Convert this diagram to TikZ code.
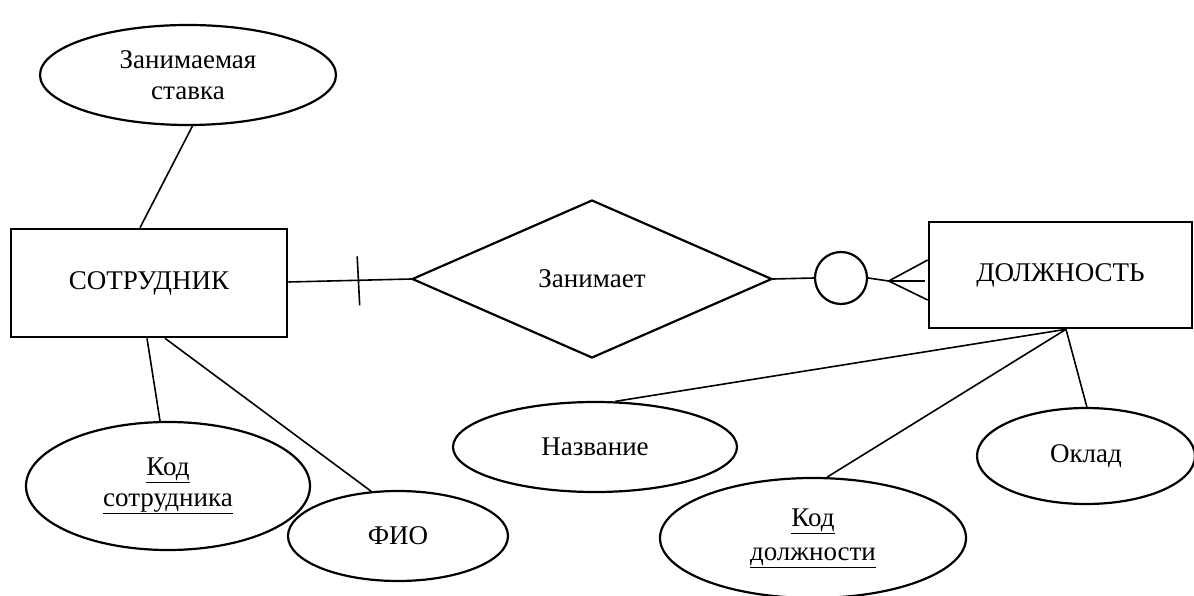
\documentclass[tikz,border=0pt]{standalone}
\usepackage{fontspec}
\setmainfont{Liberation Serif}
\usetikzlibrary{shapes.geometric,calc}
\begin{document}
\begin{tikzpicture}[x=1pt,y=-1pt,
  every node/.style={font=\fontsize{27}{31}\selectfont, align=center, inner sep=0pt},
  entity/.style={draw, rectangle, line width=2.6pt},
  attr/.style={draw, ellipse, line width=2.2pt},
  rel/.style={draw, diamond, line width=2.2pt, shape aspect=2.28},
  link/.style={line width=1.6pt}]
\path[use as bounding box] (0,0) rectangle (1194,596);
\clip (0,0) rectangle (1194,596);

% entities
\node[entity, minimum width=276pt, minimum height=108pt] (sotr) at (149,283) {СОТРУДНИК};
\node[entity, minimum width=263pt, minimum height=106pt] (dolzh) at (1060.5,275) {ДОЛЖНОСТЬ};

% relationship
\node[rel, minimum width=360pt, minimum height=158pt] (zan) at (592,279) {Занимает};
\node[draw, circle, line width=2.2pt, minimum size=52pt] (opt) at (841,278) {};

% attributes
\node[attr, minimum width=296pt, minimum height=100pt] (stavka) at (188,75) {Занимаемая\\ставка};
\node[attr, minimum width=284pt, minimum height=128pt] (kods) at (168,486) {\underline{Код}\\\underline{сотрудника}};
\node[attr, minimum width=220pt, minimum height=90pt] (fio) at (398,536) {ФИО};
\node[attr, minimum width=284pt, minimum height=90pt] (nazv) at (595,447) {Название};
\node[attr, minimum width=306pt, minimum height=120pt] (kodd) at (813,538) {\underline{Код}\\[3pt]\underline{должности}};
\node[attr, minimum width=218pt, minimum height=96pt] (oklad) at (1086,456) {Оклад};

% attribute links
\draw[link] ([xshift=-9pt]sotr.north) -- (stavka.-85.6);
\draw[link] ([xshift=-2pt]sotr.south) -- (kods.97);
\draw[link] ([xshift=16pt]sotr.south) -- (fio.121);
\draw[link] ([xshift=5.5pt]dolzh.south) -- (nazv.66);
\draw[link] ([xshift=5.5pt]dolzh.south) -- (kodd.77);
\draw[link] ([xshift=5.5pt]dolzh.south) -- (oklad.89);

% relationship links with cardinality marks
\draw[link] ([yshift=1pt]sotr.east) -- coordinate[pos=0.57] (bar) (zan.west);
\draw[link] ([shift={(-1pt,24pt)}]bar) -- ([shift={(1.5pt,-25pt)}]bar);
\draw[link] (zan.east) -- (opt.west);
\coordinate (crow) at ([shift={(-39pt,-6pt)}]dolzh.west);
\draw[link] (opt.east) -- (crow);
\draw[link] ([yshift=15pt]dolzh.west) -- (crow) -- ([yshift=-25pt]dolzh.west);
\draw[link] (crow) -- ([shift={(-3pt,-6pt)}]dolzh.west);
\end{tikzpicture}
\end{document}
